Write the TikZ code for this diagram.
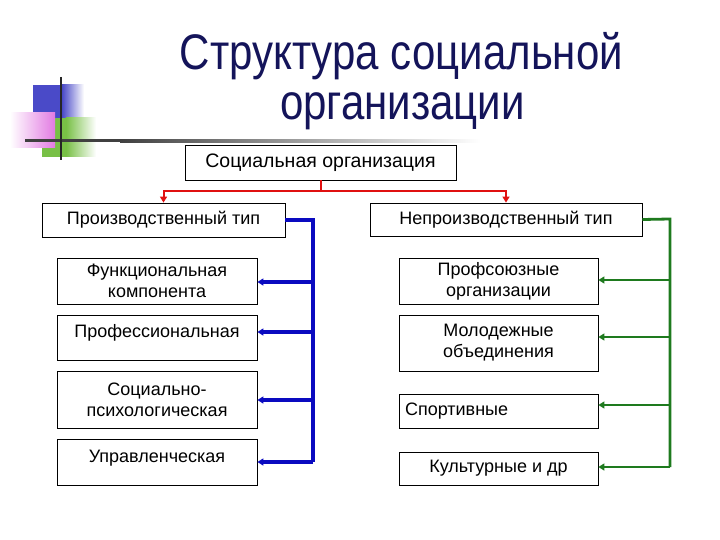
\documentclass[tikz,border=0pt]{standalone}
\usepackage{fontspec}
\setmainfont{Liberation Sans}
\usetikzlibrary{arrows.meta}
\definecolor{titlecol}{HTML}{14145A}
\definecolor{icoblue}{HTML}{4A4AC8}
\definecolor{icogreen}{HTML}{78C046}
\definecolor{icopink}{HTML}{E27AE2}
\definecolor{linegray}{HTML}{404040}
\definecolor{redc}{HTML}{E01010}
\definecolor{bluec}{HTML}{0A0AC0}
\definecolor{greenc}{HTML}{1E7A1E}
\begin{document}
\begin{tikzpicture}[x=1pt,y=-1pt,
  box/.style={draw=black, line width=0.8pt, fill=white, inner sep=2pt,
    align=center, font=\fontsize{18}{21}\selectfont},
  redline/.style={draw=redc, line width=2pt},
  blueline/.style={draw=bluec, line width=3.4pt},
  greenline/.style={draw=greenc, line width=2.8pt},
  tip/.style={-{Triangle[length=6pt,width=7pt]}},
  ttl/.style={text=titlecol, font=\fontsize{50}{60}\selectfont, inner sep=0pt, xscale=0.84, transform shape, anchor=base}
]
\useasboundingbox (0,0) rectangle (720,540);
% decorative icon
\fill[icoblue] (33,85) rectangle (62,118);
\shade[left color=icoblue, right color=white] (62,85) rectangle (84,118);
\fill[icogreen] (42,118) rectangle (66,157);
\shade[left color=icogreen, right color=white] (66,118) rectangle (96,157);
\shade[left color=white, right color=icopink] (10,113) rectangle (55,148);
\fill[linegray] (25,139.5) rectangle (120,142.5);
\shade[left color=linegray, right color=white] (120,139.5) rectangle (480,142.5);
\draw[line width=2.6pt, black!85] (61,77) -- (61,160);
% title
\node[ttl] (t1) at (401.5,70) {Структура социальной};
\node[ttl] (t2) at (402.5,120) {организации};
% boxes
\node[box, font=\fontsize{19.5}{23}\selectfont, minimum width=271pt, minimum height=35pt] (top) at (320.5,162.5) {Социальная организация};
\node[box, minimum width=243pt, minimum height=34pt] (prod) at (163.5,220) {Производственный тип};
\node[box, minimum width=272pt, minimum height=33pt] (nonprod) at (506,219.5) {Непроизводственный тип};
\node[box, minimum width=200pt, minimum height=46pt] (f1) at (157,281) {Функциональная\\компонента};
\node[box, minimum width=200pt, minimum height=45pt, text height=13pt, text depth=14pt] (f2) at (157,337.5) {Профессиональная};
\node[box, minimum width=200pt, minimum height=57pt] (f3) at (157,399.5) {Социально-\\психологическая};
\node[box, minimum width=200pt, minimum height=46pt, text height=13pt, text depth=13pt] (f4) at (157,462) {Управленческая};
\node[box, minimum width=199pt, minimum height=46pt] (r1) at (498.5,281) {Профсоюзные\\организации};
\node[box, minimum width=199pt, minimum height=56pt] (r2) at (498.5,343) {Молодежные\\объединения};
\node[box, minimum width=199pt, minimum height=34pt, align=left, text width=187pt] (r3) at (498.5,411) {Спортивные};
\node[box, minimum width=199pt, minimum height=33pt] (r4) at (498.5,468.5) {Культурные и др};
% red connectors
\coordinate (rj) at (320.5,191);
\draw[redline] (top.south) -- (rj);
\draw[redline, tip] (rj) -| (prod.north);
\draw[redline, tip] (rj) -| (nonprod.north);
% blue connectors
\coordinate (bt) at (313,220);
\coordinate (b1) at (313,282);
\coordinate (b2) at (313,332);
\coordinate (b3) at (313,400);
\coordinate (b4) at (313,462);
\draw[blueline, line join=miter] (prod.east) -- (bt) -- (b4);
\draw[blueline, tip] (b1) -- (b1 -| f1.east);
\draw[blueline, tip] (b2) -- (b2 -| f2.east);
\draw[blueline, tip] (b3) -- (b3 -| f3.east);
\draw[blueline, tip] (b4) -- (b4 -| f4.east);
% green connectors
\coordinate (gt) at (670,219);
\coordinate (g1) at (670,280);
\coordinate (g2) at (670,337);
\coordinate (g3) at (670,405);
\coordinate (g4) at (670,467);
\draw[greenline, line join=miter] (nonprod.east) -- (gt) -- (g4);
\draw[greenline, tip] (g1) -- (g1 -| r1.east);
\draw[greenline, tip] (g2) -- (g2 -| r2.east);
\draw[greenline, tip] (g3) -- (g3 -| r3.east);
\draw[greenline, tip] (g4) -- (g4 -| r4.east);
\end{tikzpicture}
\end{document}
